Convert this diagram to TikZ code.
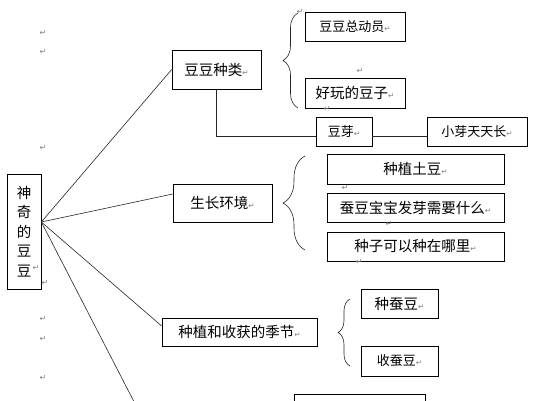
\documentclass[tikz,border=0pt]{standalone}
\usepackage{fontspec}
\setmainfont{Noto Sans CJK SC}
\newfontfamily\retfont{DejaVu Sans}
\usetikzlibrary{decorations.pathreplacing}
\newcommand{\retsym}{{\retfont\fontsize{7.5}{7.5}\selectfont\color{gray}↵}}

\begin{document}
\begin{tikzpicture}[x=1pt,y=-1pt]
	\tikzstyle{every node}+=[inner sep=0pt]
	\tikzstyle{box}=[draw=black, line width=0.7pt, rectangle, font=\fontsize{14.5}{16}\selectfont]
	\tikzstyle{smallbox}=[box, font=\fontsize{13}{15}\selectfont]
	\tikzstyle{edge}=[draw=black!85, line width=0.6pt]
	\tikzstyle{retmark}=[text=gray, font=\retfont\fontsize{8}{8}\selectfont]
	\fill [white] (0,0) rectangle (538,400);
	\useasboundingbox (0,0) rectangle (538,400);
	\clip (0,0) rectangle (538,400);
	% root
	\node [box, minimum width=34pt, minimum height=115pt, align=center, font=\fontsize{14.5}{19.5}\selectfont] (root) at (24,231.5) {神\\奇\\的\\豆\\豆};
	\coordinate (hub) at ([yshift=9.5pt]root.east);
	% first level
	\node [box, minimum width=89pt, minimum height=39pt] (zl) at (216.5,69.5) {豆豆种类\retsym};
	\node [box, minimum width=99pt, minimum height=38pt] (hj) at (222.5,203) {生长环境\retsym};
	\node [box, minimum width=155pt, minimum height=28pt] (jj) at (239.5,332) {种植和收获的季节\retsym};
	\coordinate (hidden) at (146,425);
	% second level
	\node [smallbox, minimum width=100pt, minimum height=29pt] (zdy) at (355,26.5) {豆豆总动员\retsym};
	\node [box, minimum width=100pt, minimum height=30pt] (hw) at (355,93) {好玩的豆子\retsym};
	\node [smallbox, minimum width=56pt, minimum height=29pt] (dy) at (344,131.5) {豆芽\retsym};
	\node [smallbox, minimum width=100pt, minimum height=29pt] (xy) at (477,131.5) {小芽天天长\retsym};
	\node [box, minimum width=177pt, minimum height=30pt] (td) at (415.5,169) {种植土豆\retsym};
	\node [box, minimum width=177pt, minimum height=29pt] (cd) at (415.5,207.5) {蚕豆宝宝发芽需要什么\retsym};
	\node [box, minimum width=177pt, minimum height=29pt] (zz) at (415.5,246.5) {种子可以种在哪里\retsym};
	\node [box, minimum width=77pt, minimum height=29pt] (zc) at (399.5,303.5) {种蚕豆\retsym};
	\node [smallbox, minimum width=77pt, minimum height=30pt] (sc) at (399.5,361) {收蚕豆\retsym};
	\node [box, minimum width=131pt, minimum height=32pt] (last) at (359.5,410) {};
	% connectors
	\draw [edge] (hub) -- (zl.west);
	\draw [edge] (hub) -- ([yshift=9pt]hj.west);
	\draw [edge] (hub) -- ([yshift=6pt]jj.west);
	\draw [edge] (hub) -- (hidden);
	\draw [edge] (zl.south) |- ([yshift=-4.5pt]dy.west);
	\draw [edge] ([yshift=-4.5pt]dy.east) -- ([yshift=-4.5pt]xy.west);
	% braces
	\draw [edge, decorate, decoration={brace, amplitude=15pt}] (298,108) -- (298,13);
	\draw [edge, decorate, decoration={brace, amplitude=22pt}] (305,250) -- (305,156);
	\draw [edge, decorate, decoration={brace, amplitude=12pt}] (350,366) -- (350,299);
	% paragraph marks
	\node [retmark] (r1) at (43,33) {↵};
	\node [retmark] (r2) at (43,52) {↵};
	\node [retmark] (r3) at (43,148) {↵};
	\node [retmark] (r4) at (36,268) {↵};
	\node [retmark] (r5) at (45,283) {↵};
	\node [retmark] (r6) at (43,319) {↵};
	\node [retmark] (r7) at (43,339) {↵};
	\node [retmark] (r8) at (43,378) {↵};
	\node [retmark] (r9) at (300,12) {↵};
	\node [retmark] (r10) at (360,71) {↵};
	\node [retmark] (r11) at (327,109) {↵};
	\node [retmark] (r12) at (345,188) {↵};
	\node [retmark] (r13) at (389,224) {↵};
	\node [retmark] (r14) at (359,262) {↵};
\end{tikzpicture}
\end{document}
